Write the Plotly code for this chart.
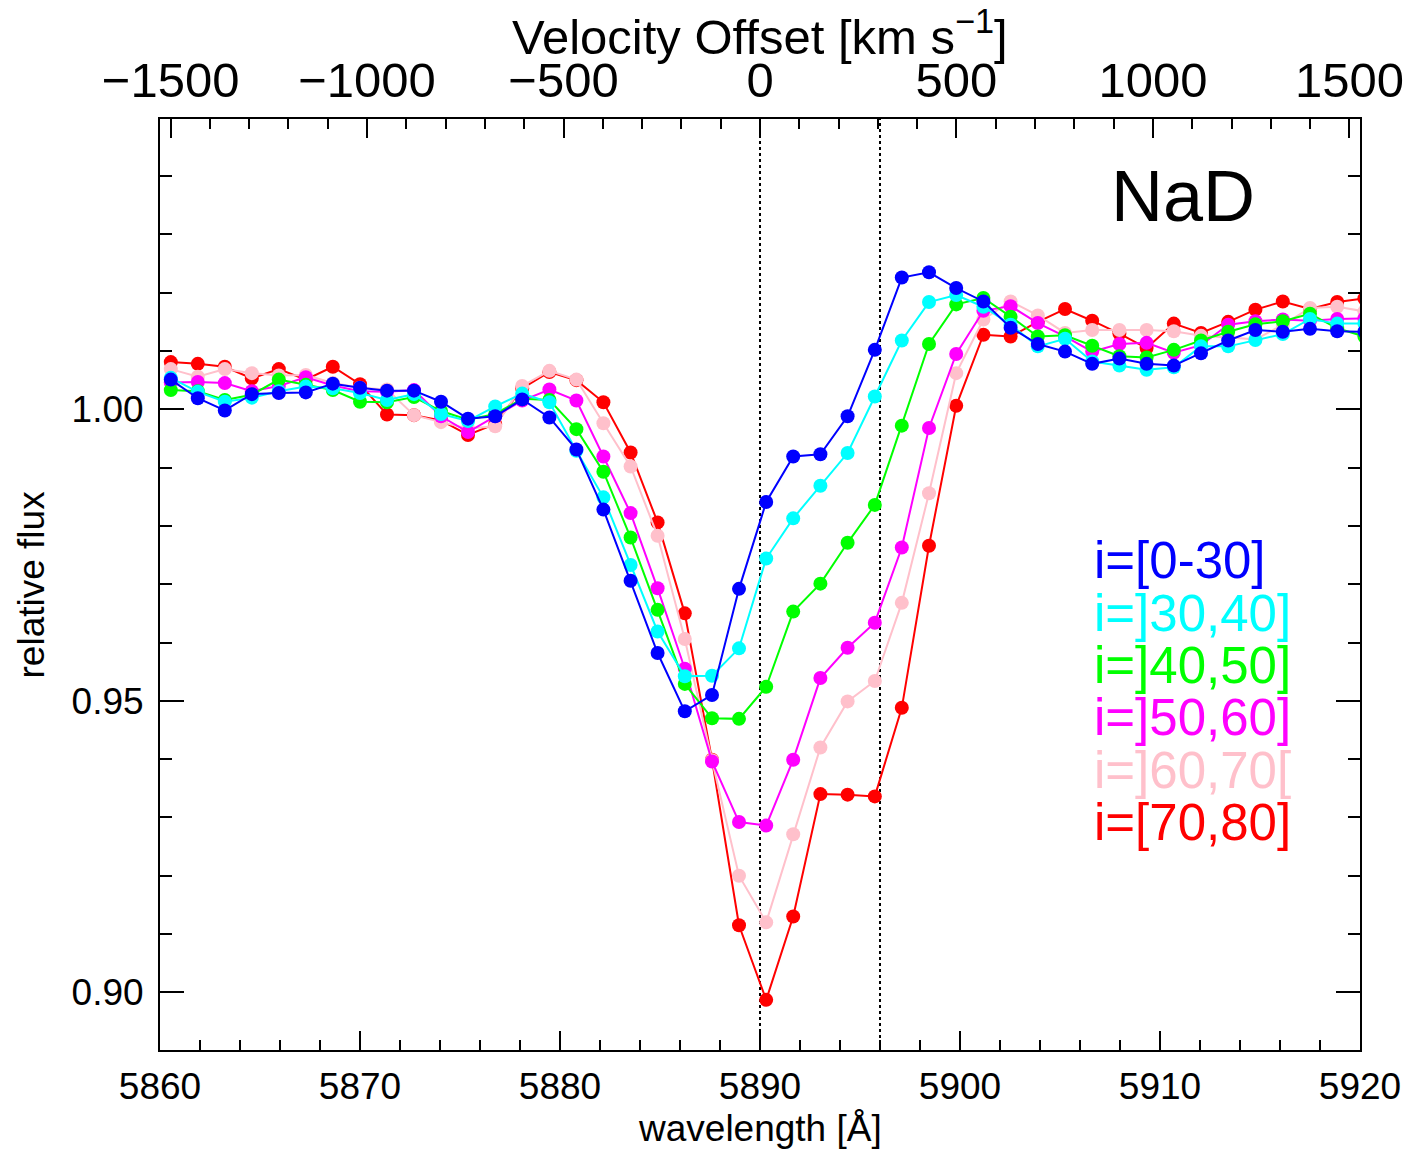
import plotly.graph_objects as go

# ---------------- data ----------------
wavelength = [5860.54, 5861.89, 5863.24, 5864.59, 5865.94, 5867.29, 5868.64, 5870.00,
              5871.35, 5872.70, 5874.05, 5875.40, 5876.76, 5878.11, 5879.47, 5880.82,
              5882.17, 5883.53, 5884.88, 5886.24, 5887.60, 5888.95, 5890.31, 5891.66,
              5893.02, 5894.38, 5895.74, 5897.09, 5898.45, 5899.81, 5901.17, 5902.53,
              5903.89, 5905.25, 5906.61, 5907.97, 5909.33, 5910.69, 5912.05, 5913.41,
              5914.77, 5916.14, 5917.50, 5918.86, 5920.22]

flux_0_30 = [1.0051, 1.0019, 0.9998, 1.0026, 1.0028, 1.0029, 1.0044, 1.0037, 1.0032, 1.0032,
             1.0013, 0.9984, 0.9988, 1.0017, 0.9986, 0.9931, 0.9828, 0.9706, 0.9582, 0.9482,
             0.9510, 0.9692, 0.9841, 0.9919, 0.9923, 0.9988, 1.0102, 1.0226, 1.0235, 1.0208,
             1.0185, 1.0140, 1.0112, 1.0099, 1.0078, 1.0087, 1.0078, 1.0075, 1.0096, 1.0118,
             1.0136, 1.0133, 1.0138, 1.0134, 1.0133]
flux_30_40 = [1.0054, 1.0030, 1.0013, 1.0020, 1.0031, 1.0039, 1.0036, 1.0028, 1.0016, 1.0026,
              0.9992, 0.9980, 1.0005, 1.0027, 1.0012, 0.9929, 0.9849, 0.9733, 0.9619, 0.9542,
              0.9543, 0.9590, 0.9744, 0.9813, 0.9869, 0.9925, 1.0022, 1.0118, 1.0184, 1.0196,
              1.0176, 1.0145, 1.0108, 1.0121, 1.0082, 1.0075, 1.0068, 1.0072, 1.0108, 1.0108,
              1.0119, 1.0129, 1.0155, 1.0147, 1.0147]
flux_40_50 = [1.0033, 1.0031, 1.0016, 1.0025, 1.0051, 1.0042, 1.0033, 1.0013, 1.0012, 1.0021,
              0.9997, 0.9982, 0.9992, 1.0018, 1.0016, 0.9966, 0.9893, 0.9780, 0.9656, 0.9529,
              0.9470, 0.9469, 0.9524, 0.9653, 0.9701, 0.9771, 0.9836, 0.9972, 1.0112, 1.0180,
              1.0191, 1.0159, 1.0125, 1.0127, 1.0109, 1.0091, 1.0089, 1.0102, 1.0118, 1.0133,
              1.0146, 1.0151, 1.0164, 1.0139, 1.0125]
flux_50_60 = [1.0046, 1.0047, 1.0045, 1.0031, 1.0040, 1.0055, 1.0041, 1.0031, 1.0030, 1.0033,
              0.9988, 0.9961, 0.9988, 1.0015, 1.0034, 1.0015, 0.9919, 0.9822, 0.9693, 0.9555,
              0.9396, 0.9292, 0.9286, 0.9399, 0.9539, 0.9591, 0.9634, 0.9763, 0.9968, 1.0095,
              1.0169, 1.0177, 1.0148, 1.0125, 1.0099, 1.0112, 1.0114, 1.0097, 1.0110, 1.0145,
              1.0151, 1.0154, 1.0152, 1.0155, 1.0156]
flux_60_70 = [1.0069, 1.0056, 1.0069, 1.0062, 1.0058, 1.0059, 1.0045, 1.0037, 1.0034, 0.9990,
              0.9978, 0.9967, 0.9971, 1.0040, 1.0066, 1.0051, 0.9976, 0.9902, 0.9783, 0.9606,
              0.9398, 0.9200, 0.9120, 0.9271, 0.9420, 0.9499, 0.9534, 0.9668, 0.9856, 1.0062,
              1.0154, 1.0185, 1.0161, 1.0131, 1.0136, 1.0136, 1.0136, 1.0134, 1.0126, 1.0123,
              1.0120, 1.0145, 1.0174, 1.0176, 1.0168]
flux_70_80 = [1.0081, 1.0078, 1.0073, 1.0053, 1.0069, 1.0051, 1.0073, 1.0043, 0.9991, 0.9990,
              0.9981, 0.9956, 0.9975, 1.0036, 1.0064, 1.0050, 1.0012, 0.9926, 0.9806, 0.9650,
              0.9399, 0.9115, 0.8987, 0.9130, 0.9340, 0.9339, 0.9336, 0.9488, 0.9766, 1.0006,
              1.0128, 1.0125, 1.0150, 1.0172, 1.0152, 1.0130, 1.0105, 1.0147, 1.0131, 1.0150,
              1.0171, 1.0185, 1.0172, 1.0184, 1.0190]

series_labels = ["i=[0-30]", "i=]30,40]", "i=]40,50]", "i=]50,60]", "i=]60,70[", "i=[70,80]"]
series_colors = ["#0000ff", "#00ffff", "#00ff00", "#ff00ff", "#ffc0cb", "#ff0000"]
series_values = [flux_0_30, flux_30_40, flux_40_50, flux_50_60, flux_60_70, flux_70_80]

line_centers = [5890.0, 5896.0]
lambda_ref = 5890.0
c_kms = 299792.458
x_range = [5860, 5920]
y_range = [0.8901, 1.0498]

FONT = "Liberation Sans, Arial, Helvetica, sans-serif"

fig = go.Figure()

# draw red first, blue last (blue on top)
for lab, col, vals in reversed(list(zip(series_labels, series_colors, series_values))):
    fig.add_trace(go.Scatter(
        x=wavelength, y=vals, mode="lines+markers", name=lab,
        line=dict(color=col, width=2),
        marker=dict(color=col, size=14, line=dict(width=0)),
        showlegend=False, cliponaxis=True,
    ))

# invisible trace to activate the top velocity axis
v_range = [c_kms * (x_range[0] - lambda_ref) / lambda_ref, c_kms * (x_range[1] - lambda_ref) / lambda_ref]
fig.add_trace(go.Scatter(x=v_range, y=[None, None], xaxis="x2", yaxis="y",
                         mode="lines", showlegend=False, hoverinfo="skip"))

# dotted vertical lines
for lc in line_centers:
    fig.add_shape(type="line", xref="x", yref="paper", x0=lc, x1=lc, y0=0, y1=1,
                  line=dict(color="black", width=2, dash="dot"), layer="below")

axis_common = dict(showgrid=False, zeroline=False, linecolor="black", linewidth=2,
                   tickcolor="black", tickwidth=2, ticks="inside", showline=True)

fig.update_layout(
    width=1420, height=1149,
    margin=dict(l=160, r=60, t=119, b=99),
    paper_bgcolor="white", plot_bgcolor="white",
    font=dict(family=FONT, color="black"),
    xaxis=dict(range=x_range, dtick=10, tick0=5860, ticklen=19, mirror=False,
               tickfont=dict(size=37, family=FONT), ticklabelstandoff=3,
               minor=dict(dtick=2, ticklen=10, ticks="inside", tickcolor="black", tickwidth=2),
               **axis_common),
    xaxis2=dict(range=v_range, overlaying="x", side="top", dtick=500, tick0=0, ticklen=19,
                tickfont=dict(size=49, family=FONT), ticklabelstandoff=0,
                minor=dict(dtick=100, ticklen=10, ticks="inside", tickcolor="black", tickwidth=2),
                **axis_common),
    yaxis=dict(range=y_range, tickvals=[0.90, 0.95, 1.00], tickformat=".2f", ticklen=24,
               mirror="ticks", tickfont=dict(size=37, family=FONT), ticklabelstandoff=7,
               minor=dict(dtick=0.01, tick0=0.90, ticklen=12, ticks="inside", tickcolor="black", tickwidth=2),
               **axis_common),
)

annotations = [
    dict(text="Velocity Offset [km s<sup>\u22121</sup>]", x=0.5, y=(1050 - 33) / 931, xref="paper", yref="paper",
         showarrow=False, font=dict(size=49, family=FONT), xanchor="center", yanchor="middle"),
    dict(text="wavelength [\u00c5]", x=0.5, y=-0.0838, xref="paper", yref="paper",
         showarrow=False, font=dict(size=37, family=FONT), xanchor="center", yanchor="middle"),
    dict(text="relative flux", x=-0.1067, y=0.5, xref="paper", yref="paper", textangle=-90,
         showarrow=False, font=dict(size=37, family=FONT), xanchor="center", yanchor="middle"),
    dict(text="NaD", x=0.8525, y=0.9173, xref="paper", yref="paper",
         showarrow=False, font=dict(size=72, family=FONT), xanchor="center", yanchor="middle"),
]
label_y_px = [560, 613, 665, 717, 770, 822]
for lab, col, ypx in zip(series_labels, series_colors, label_y_px):
    annotations.append(dict(text=lab, x=(1092 - 160) / 1200, y=(1050 - ypx) / 931,
                            xref="paper", yref="paper", showarrow=False,
                            font=dict(size=51, family=FONT, color=col),
                            xanchor="left", yanchor="middle"))
fig.update_layout(annotations=annotations)

fig.write_html("out.html")
